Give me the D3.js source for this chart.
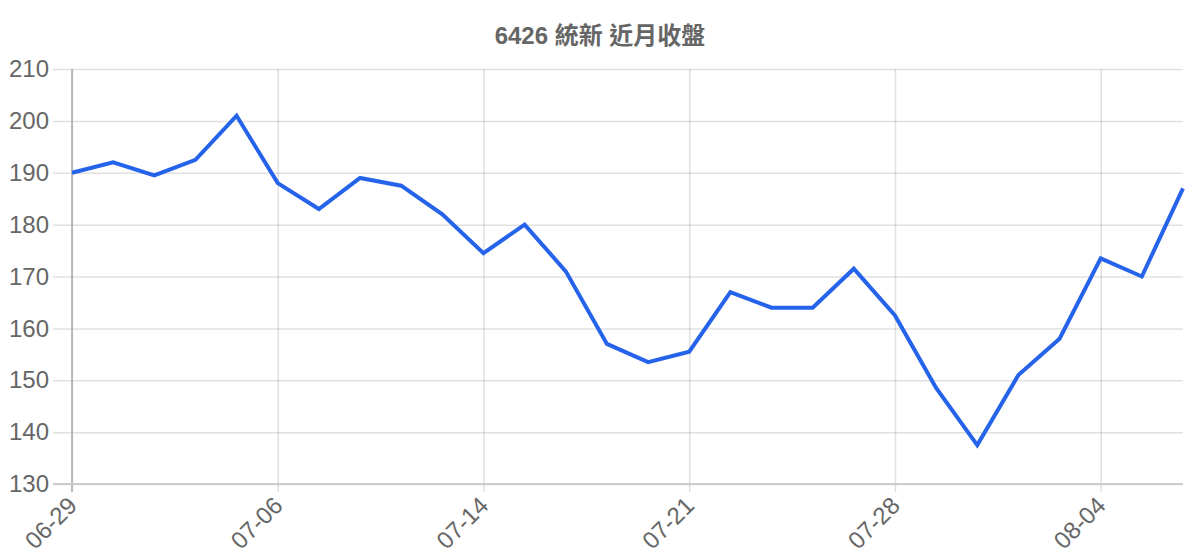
<!DOCTYPE html>
<html>
<head>
<meta charset="utf-8">
<script src="https://cdn.jsdelivr.net/npm/d3@7"></script>
<style>
  body { margin: 0; background: #fff; }
  text { font-family: "Liberation Sans", Arial, "Noto Sans CJK TC", sans-serif; }
</style>
</head>
<body>
<svg id="chart"></svg>
<script>
// trading days shown on the x axis (every 5th gets a label)
const dates = ["06-29", "06-30", "07-01", "07-02", "07-03", "07-06", "07-07", "07-08", "07-09", "07-10",
  "07-14", "07-15", "07-16", "07-17", "07-20", "07-21", "07-22", "07-23", "07-24", "07-27",
  "07-28", "07-29", "07-30", "07-31", "08-03", "08-04", "08-05", "08-06"];
// closing prices
const closes = [190, 192, 189.5, 192.5, 201, 188, 183, 189, 187.5, 182,
  174.5, 180, 171, 157, 153.5, 155.5, 167, 164, 164, 171.5,
  162.5, 148.5, 137.5, 151, 158, 173.5, 170, 187];
const yTicks = [130, 140, 150, 160, 170, 180, 190, 200, 210];
const title = "6426 統新 近月收盤";

const W = 1200, H = 560;
const margin = { top: 69, right: 17, bottom: 76, left: 72 };
const width = W - margin.left - margin.right;
const height = H - margin.top - margin.bottom;

const svg = d3.select("#chart").attr("width", W).attr("height", H);

svg.append("text").attr("x", 600).attr("y", 44).attr("text-anchor", "middle")
  .style("font-size", "24px").style("font-weight", "bold").attr("fill", "#666").text(title);

const chart = svg.append("g").attr("transform", `translate(${margin.left},${margin.top})`);

const x = d3.scalePoint().domain(dates).range([0, width]);
const y = d3.scaleLinear().domain([130, 210]).range([height, 0]);

// horizontal grid + y labels
const yAxis = chart.append("g")
  .call(d3.axisLeft(y).tickValues(yTicks).tickSize(-width - 19))
  .attr("transform", "translate(-19,0)");
yAxis.select(".domain").remove();
yAxis.selectAll("line").attr("stroke", "rgba(0,0,0,0.12)").attr("stroke-width", 1.5);
yAxis.selectAll("text").attr("fill", "#666").style("font-size", "24px").attr("x", -4);

// vertical grid + x labels
const labeled = dates.filter((d, i) => i % 5 === 0);
const xAxis = chart.append("g").attr("transform", `translate(0,${height})`)
  .call(d3.axisBottom(x).tickValues(labeled).tickSize(-height));
xAxis.select(".domain").remove();
xAxis.selectAll("line").attr("stroke", "rgba(0,0,0,0.12)").attr("stroke-width", 1.5).attr("y2", 8).attr("y1", -height);
xAxis.selectAll("text").attr("fill", "#666").style("font-size", "24px")
  .attr("text-anchor", "end").attr("dy", 0).attr("y", 0)
  .attr("transform", "translate(6,23) rotate(-45)");

// axis lines
chart.append("line").attr("x1", 0).attr("x2", 0).attr("y1", 0).attr("y2", height + 8)
  .attr("stroke", "#aaa").attr("stroke-width", 1.5);
chart.append("line").attr("x1", -19).attr("x2", width).attr("y1", height).attr("y2", height)
  .attr("stroke", "#ccc").attr("stroke-width", 2);

// closing price line
const line = d3.line().x((d, i) => x(dates[i])).y(d => y(d));
chart.append("path").datum(closes).attr("d", line)
  .attr("fill", "none").attr("stroke", "#2563eb").attr("stroke-width", 4)
  .attr("stroke-linejoin", "miter");
</script>
</body>
</html>
